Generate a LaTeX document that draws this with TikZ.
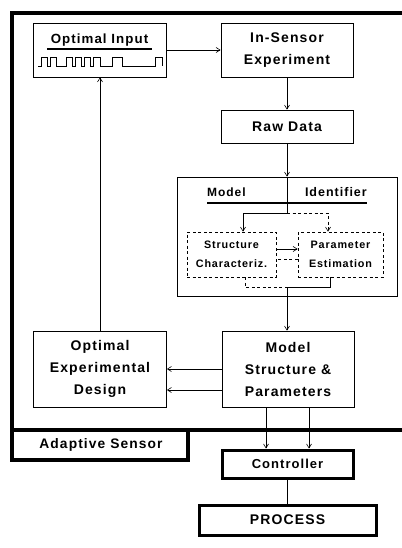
\documentclass[tikz,border=0pt]{standalone}
\usepackage{fontspec}
\setmainfont{Liberation Sans}[LetterSpace=8]
\usetikzlibrary{arrows.meta}

\tikzset{
  box/.style={draw, line width=0.8pt, rectangle, align=center, inner sep=0pt,
    font=\fontsize{14}{22}\selectfont\bfseries},
  heavybox/.style={box, line width=3pt},
  dbox/.style={draw, line width=0.7pt, dash pattern=on 3pt off 2.5pt, rectangle,
    align=center, inner sep=0pt, font=\fontsize{10.8}{19}\selectfont\bfseries},
  lbl/.style={inner sep=0pt, font=\fontsize{13}{16}\selectfont\bfseries},
  arr/.style={line width=0.6pt, -{Straight Barb[length=4pt,width=5pt]}},
  dline/.style={line width=0.6pt, dash pattern=on 3pt off 2.5pt},
  frame/.style={line width=3.8pt},
}

\begin{document}
\begin{tikzpicture}[x=1pt, y=-1pt]
\useasboundingbox (0,0) rectangle (401,548);

% adaptive sensor enclosure
\draw[frame] (405,13) -- (12,13) -- (12,460) -- (188,460) -- (188,430);
\draw[frame] (12,430) -- (405,430);
\node[lbl, font=\fontsize{13.8}{16}\selectfont\bfseries] (asen) at (101,445) {Adaptive Sensor};

% optimal input with its test signal
\node[box, minimum width=133pt, minimum height=54pt] (oin) at (99.5,50) {};
\node[lbl, font=\fontsize{13.3}{16}\selectfont\bfseries] (oint) at (99.5,40) {Optimal Input};
\draw[line width=1.4pt] (47,49) -- (152,49);
\draw[line width=0.7pt] (38,66) -- (41,66) -- (41,57) -- (47,57) -- (47,66)
  -- (50,66) -- (50,57) -- (56,57) -- (56,66)
  -- (66,66) -- (66,57) -- (72,57) -- (72,66)
  -- (75,66) -- (75,57) -- (81,57) -- (81,66)
  -- (84,66) -- (84,57) -- (90,57) -- (90,66)
  -- (93,66) -- (93,57) -- (100,57) -- (100,66)
  -- (112,66) -- (112,57) -- (122,57) -- (122,66)
  -- (155,66) -- (155,57) -- (162,57) -- (162,66);

% main chain
\node[box, minimum width=132pt, minimum height=54pt] (ise) at (287,50) {In-Sensor\\Experiment};
\node[box, minimum width=132pt, minimum height=33pt] (raw) at (287,126.5) {Raw Data};
\node[box, minimum width=220pt, minimum height=119pt] (mid) at (287,236.5) {};
\node[lbl, anchor=west, font=\fontsize{12}{16}\selectfont\bfseries] (mlab) at (207,192) {Model};
\node[lbl, anchor=east, font=\fontsize{12.5}{16}\selectfont\bfseries] (ilab) at (367,192) {Identifier};
\draw[line width=2.2pt] (207,203) -- (367,203);

\node[dbox, minimum width=89pt, minimum height=45pt] (sc) at (231.5,254.5) {Structure\\Characteriz.};
\node[dbox, minimum width=85pt, minimum height=45pt] (pe) at (340.5,254.5) {Parameter\\Estimation};

\node[box, minimum width=132pt, minimum height=76pt] (msp) at (288,369) {Model\\Structure \&\\Parameters};
\node[box, minimum width=133pt, minimum height=76pt] (oed) at (100,369) {Optimal\\Experimental\\Design};

\node[heavybox, minimum width=131pt, minimum height=28pt, font=\fontsize{13}{16}\selectfont\bfseries] (ctl) at (287.5,464) {Controller};
\node[heavybox, minimum width=177pt, minimum height=30pt] (proc) at (287.5,520) {PROCESS};

% connectors
\coordinate (split) at (287,213);
\coordinate (merge) at (287,287);
\draw[arr] (oin.east) -- (ise.west);
\draw[arr] (ise.south) -- (raw.north);
\draw[arr] (raw.south) -- (mid.north);
\draw[arr] (mid.north) -- (split) -| ([xshift=11.5pt]sc.north);
\draw[dline, -{Straight Barb[length=4pt,width=5pt]}] (split) -| ([xshift=-12.5pt]pe.north);
\draw[dline] ([yshift=-4.5pt]pe.west) -- ([yshift=-4.5pt]sc.east);
\draw[arr] ([yshift=5.5pt]sc.east) -- ([yshift=5.5pt]pe.west);
\draw[dline] ([xshift=13.5pt]sc.south) |- (merge);
\draw[line width=0.6pt] ([xshift=-10.5pt]pe.south) |- (merge);
\draw[arr] (merge) -- (merge |- msp.north);
\draw[arr] (msp.west) -- (oed.east);
\draw[arr] ([yshift=-21pt]msp.west) -- ([yshift=-21pt]oed.east);
\draw[arr] (oed.north) -- (oed.north |- oin.south);
\draw[arr] ([xshift=-22pt]msp.south) -- ([xshift=-22pt]msp.south |- ctl.north);
\draw[arr] ([xshift=21pt]msp.south) -- ([xshift=21pt]msp.south |- ctl.north);
\draw[line width=0.5pt] (ctl.south) -- (proc.north);
\end{tikzpicture}
\end{document}
